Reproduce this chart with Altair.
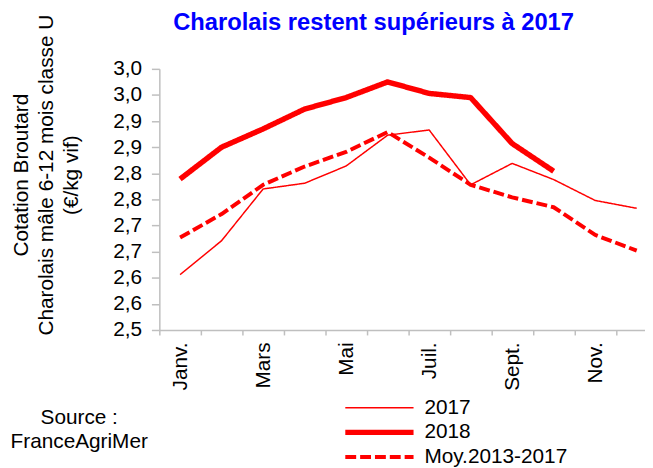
import json
import altair as alt
import pandas as pd

FONT = "Liberation Sans"

MONTHS = ["Janv.", "Févr.", "Mars", "Avr.", "Mai", "Juin", "Juil.", "Août", "Sept.", "Oct.", "Nov.", "Déc."]
MONTH_TICK_LABELS = ["Janv.", "", "Mars", "", "Mai", "", "Juil.", "", "Sept.", "", "Nov.", ""]
SERIES = ["2017", "2018", "Moy.2013-2017"]
V2017 = [2.606, 2.671, 2.770, 2.781, 2.814, 2.873, 2.883, 2.778, 2.819, 2.788, 2.748, 2.733]
V2018 = [2.789, 2.850, 2.885, 2.923, 2.945, 2.975, 2.953, 2.945, 2.857, 2.804]
VMOY = [2.677, 2.722, 2.778, 2.813, 2.841, 2.879, 2.830, 2.778, 2.754, 2.735, 2.682, 2.652]
Y_TICKS = [2.5, 2.55, 2.6, 2.65, 2.7, 2.75, 2.8, 2.85, 2.9, 2.95, 3.0]
X_TICKS = [0.5 + i for i in range(12)]
TITLE = "Charolais restent supérieurs à 2017"
Y_TITLE = ["Cotation Broutard", "Charolais mâle 6-12 mois classe U", "(€/kg vif)"]
SOURCE = ["Source :", "FranceAgriMer"]

rows = []
for serie, vals in zip(SERIES, [V2017, V2018, VMOY]):
    for i, v in enumerate(vals):
        rows.append({"mois": i + 1, "nom": MONTHS[i], "valeur": v, "serie": serie})
df = pd.DataFrame(rows)

label_expr = json.dumps(MONTH_TICK_LABELS, ensure_ascii=False) + "[round(datum.value - 0.5)]"

leg = alt.Legend(
    title=None, orient="none", legendX=185, legendY=330,
    symbolType="stroke", symbolSize=4761, symbolStrokeColor="#FF0000",
    clipHeight=25, labelFontSize=21, labelFont=FONT, labelColor="black",
    labelOffset=8, rowPadding=0, padding=0, symbolOffset=0,
    direction="vertical", labelLimit=300,
)

lines = alt.Chart(df).mark_line(color="#FF0000", strokeJoin="round").encode(
    x=alt.X("mois:Q",
            scale=alt.Scale(domain=[0.5, 12.2], nice=False, zero=False),
            axis=alt.Axis(values=X_TICKS, labelExpr=label_expr, labelOffset=21,
                          labelAngle=270, labelAlign="right", labelBaseline="middle",
                          labelOverlap=False, labelFlush=False, tickSize=5,
                          labelPadding=7, title=None)),
    y=alt.Y("valeur:Q",
            scale=alt.Scale(domain=[2.5, 3.0], nice=False, zero=False),
            axis=alt.Axis(values=Y_TICKS,
                          labelExpr="replace(format(round(datum.value*10 + 0.000001)/10, '.1f'), '.', ',')",
                          tickSize=8, labelPadding=10, labelOverlap=False, labelFlush=False,
                          title=Y_TITLE, titleFont=FONT, titleFontSize=21,
                          titleFontWeight="normal", titleColor="black", titleAngle=270,
                          titleX=-150, titleY=107, titleAlign="center",
                          titleBaseline="top", titleLineHeight=25)),
    strokeWidth=alt.StrokeWidth("serie:N",
                                scale=alt.Scale(type="ordinal", domain=SERIES, range=[1.5, 5.5, 4]),
                                legend=leg),
    strokeDash=alt.StrokeDash("serie:N",
                              scale=alt.Scale(domain=SERIES, range=[[1, 0], [1, 0], [11, 4]]),
                              legend=leg),
    detail="serie:N",
    order="mois:Q",
)

title = alt.Chart(pd.DataFrame({"t": [TITLE]})).mark_text(
    font=FONT, fontSize=24, fontWeight="bold", color="#0000FF",
    align="left", baseline="alphabetic",
).encode(x=alt.value(14), y=alt.value(-39), text="t:N")

source = alt.Chart(pd.DataFrame({"t": [0]})).mark_text(
    font=FONT, fontSize=21, color="black", align="center", baseline="middle",
    lineHeight=24,
).encode(x=alt.value(-81), y=alt.value(353), text=alt.value(SOURCE))

chart = alt.layer(lines, title, source).properties(
    width=491, height=264,
    autosize=alt.AutoSizeParams(type="none"),
    padding={"left": 153, "top": 59, "right": 0, "bottom": 137},
    background="white",
).configure_view(strokeWidth=0).configure_axis(
    domainColor="#BFBFBF", tickColor="#BFBFBF", domainWidth=1.5, tickWidth=1.5,
    grid=False, labelFont=FONT, labelFontSize=21, labelColor="black",
)

chart.save("out.html", embed_options={"renderer": "svg", "actions": False})
